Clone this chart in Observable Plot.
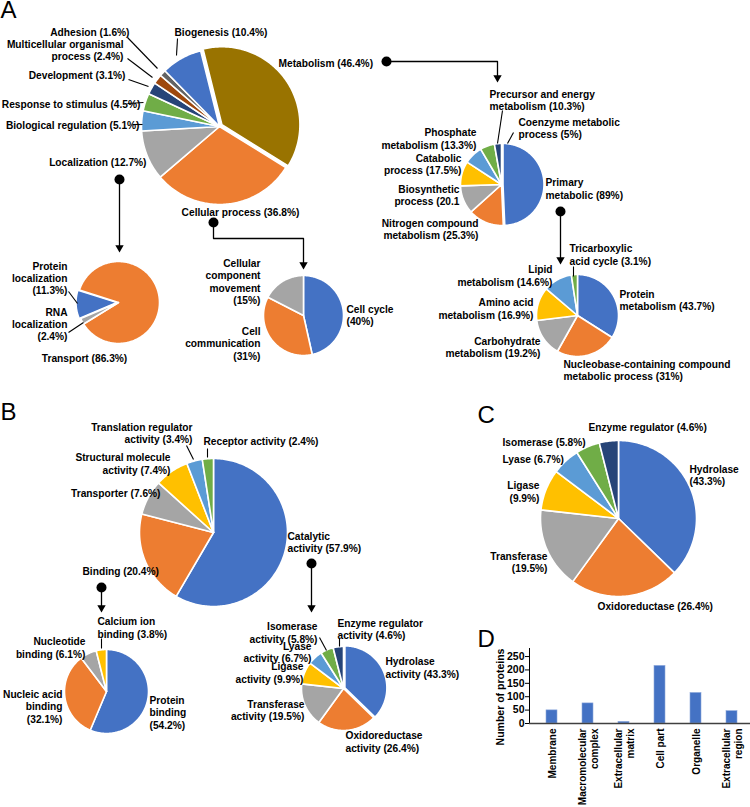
<!DOCTYPE html>
<html><head><meta charset="utf-8">
<script src="https://cdn.jsdelivr.net/npm/d3@7"></script>
<script src="https://cdn.jsdelivr.net/npm/@observablehq/plot@0.6"></script>
<style>
body{margin:0;background:#fff;}
#wrap{position:relative;width:750px;height:807px;overflow:hidden;}
#main{position:absolute;left:0;top:0;}
#dpanel{position:absolute;left:470px;top:640px;}
</style></head><body>
<div id="wrap"><div id="main"></div><div id="dpanel"></div></div>
<script>
// ---------------- DATA ----------------
// Panel A: biological process
const bpCats = ["Metabolism","Cellular process","Localization","Biological regulation","Response to stimulus","Development","Multicellular organismal process","Adhesion","Biogenesis"];
const bpVals = [46.4,36.8,12.7,5.1,4.5,3.1,2.4,1.6,10.4];
const metCats = ["Primary metabolic","Nitrogen compound metabolism","Biosynthetic process","Catabolic process","Phosphate metabolism","Precursor and energy metabolism","Coenzyme metabolic process"];
const metVals = [89,25.3,20.1,17.5,13.3,10.3,5];
const primCats = ["Protein metabolism","Nucleobase-containing compound metabolic process","Carbohydrate metabolism","Amino acid metabolism","Lipid metabolism","Tricarboxylic acid cycle"];
const primVals = [43.7,31,19.2,16.9,14.6,3.1];
const locCats = ["Protein localization","Transport","RNA localization"];
const locVals = [11.3,86.3,2.4];
const cellCats = ["Cell cycle","Cell communication","Cellular component movement"];
const cellVals = [40,31,15];
// Panel B: molecular function
const mfCats = ["Catalytic activity","Binding","Transporter","Structural molecule activity","Translation regulator activity","Receptor activity"];
const mfVals = [57.9,20.4,7.6,7.4,3.4,2.4];
const bindCats = ["Protein binding","Nucleic acid binding","Nucleotide binding","Calcium ion binding"];
const bindVals = [54.2,32.1,6.1,3.8];
const catCats = ["Hydrolase activity","Oxidoreductase activity","Transferase activity","Ligase activity","Lyase activity","Isomerase activity","Enzyme regulator activity"];
const catVals = [43.3,26.4,19.5,9.9,6.7,5.8,4.6];
// Panel C: enzyme classes
const enzCats = ["Hydrolase","Oxidoreductase","Transferase","Ligase","Lyase","Isomerase","Enzyme regulator"];
const enzVals = [43.3,26.4,19.5,9.9,6.7,5.8,4.6];
// Panel D: cellular component
const ccCats = ["Membrane","Macromolecular complex","Extracellular matrix","Cell part","Organelle","Extracellular region"];
const ccVals = [49,75,6,215,114,46];
const ccTickLabels = ["Membrane","Macromolecular\ncomplex","Extracellular\nmatrix","Cell part","Organelle","Extracellular\nregion"];
const ccTicks = [0,50,100,150,200,250];
const ccYLabel = "Number of proteins";

// ---------------- STYLE / LAYOUT ----------------
const FONT = '"Liberation Sans", Arial, Helvetica, sans-serif';
const C = {blue:"#4472C4",orange:"#ED7D31",gray:"#A5A5A5",yellow:"#FFC000",lblue:"#5B9BD5",green:"#70AD47",navy:"#264478",brown:"#9E480E",dgray:"#636363",olive:"#997300"};
const std = [C.blue,C.orange,C.gray,C.yellow,C.lblue,C.green,C.navy];

const pies = [
  {id:"bp",  vals:bpVals,  cx:219, cy:126, r:78, start:-14, colors:[C.olive,C.orange,C.gray,C.lblue,C.green,C.navy,C.brown,C.dgray,C.blue], explode:{0:3}},
  {id:"met", vals:metVals, cx:501, cy:184, r:41, start:0,   colors:std, explode:{0:1.5}},
  {id:"prim",vals:primVals,cx:577, cy:315, r:41, start:0,   colors:[C.blue,C.orange,C.gray,C.yellow,C.lblue,C.green]},
  {id:"loc", vals:locVals, cx:118, cy:302, r:41, start:247, colors:[C.blue,C.orange,C.gray], explode:{0:1.5}},
  {id:"cell",vals:cellVals,cx:303, cy:315, r:40, start:0,   colors:[C.blue,C.orange,C.gray]},
  {id:"mf",  vals:mfVals,  cx:213, cy:532, r:74, start:0,   colors:[C.blue,C.orange,C.gray,C.yellow,C.lblue,C.green]},
  {id:"bind",vals:bindVals,cx:106, cy:691, r:42, start:0,   colors:[C.blue,C.orange,C.gray,C.yellow]},
  {id:"cat", vals:catVals, cx:343, cy:688, r:42, start:0,   colors:std, explode:{0:1.5}},
  {id:"enz", vals:enzVals, cx:618, cy:518, r:78, start:0,   colors:std}
];

// label text + placement: [text, x, y]
const labelsEnd = [
  ["Adhesion (1.6%)",129,32],["Multicellular organismal\nprocess (2.4%)",123,49.5],["Development (3.1%)",125,75],
  ["Response to stimulus (4.5%)",140,104],["Biological regulation (5.1%)",139,125],["Localization (12.7%)",146,162],
  ["Phosphate\nmetabolism (13.3%)",476,138],["Catabolic\nprocess (17.5%)",461,163.5],["Biosynthetic\nprocess (20.1",459,194.5],
  ["Nitrogen compound\nmetabolism (25.3%)",478,228.5],
  ["Lipid\nmetabolism (14.6%)",552,275],["Amino acid\nmetabolism (16.9%)",533,308],["Carbohydrate\nmetabolism (19.2%)",540,346.5],
  ["Protein\nlocalization\n(11.3%)",67,277.5],["RNA\nlocalization\n(2.4%)",67,323.5],
  ["Cellular\ncomponent\nmovement\n(15%)",260,281],["Cell\ncommunication\n(31%)",260,343],
  ["Translation regulator\nactivity (3.4%)",192,432.5],["Structural molecule\nactivity (7.4%)",170,463],["Transporter (7.6%)",160,493],
  ["Nucleotide\nbinding (6.1%)",85,647],["Nucleic acid\nbinding\n(32.1%)",62,706],
  ["Isomerase\nactivity (5.8%)",317,632],["Lyase\nactivity (6.7%)",311,651.5],["Ligase\nactivity (9.9%)",303,672],["Transferase\nactivity (19.5%)",304,709.5],
  ["Ligase\n(9.9%)",539,491],["Transferase\n(19.5%)",547,561.5]
];
const labelsStart = [
  ["Biogenesis (10.4%)",174,32],["Metabolism (46.4%)",278,63],
  ["Precursor and energy\nmetabolism (10.3%)",489,99.5],["Coenzyme metabolic\nprocess (5%)",518,127.5],["Primary\nmetabolic (89%)",545,188],
  ["Tricarboxylic\nacid cycle (3.1%)",569,254],["Protein\nmetabolism (43.7%)",619,299.5],["Nucleobase-containing compound\nmetabolic process (31%)",563,369.5],
  ["Cell cycle\n(40%)",346,314.5],
  ["Receptor activity (2.4%)",203,441],["Catalytic\nactivity (57.9%)",287,541.5],["Binding (20.4%)",82,571],
  ["Calcium ion\nbinding (3.8%)",97,627],["Protein\nbinding\n(54.2%)",149,712],
  ["Enzyme regulator\nactivity (4.6%)",337,628.5],["Hydrolase\nactivity (43.3%)",385,667],["Oxidoreductase\nactivity (26.4%)",345,741],
  ["Enzyme regulator (4.6%)",588,427],["Isomerase (5.8%)",502,442],["Lyase (6.7%)",502,459],["Hydrolase\n(43.3%)",689,474.5],
  ["Oxidoreductase (26.4%)",597,606]
];
const labelsMid = [["Cellular process (36.8%)",240,212],["Transport (86.3%)",84,358]];
const panelLetters = [["A",0,10],["B",0,412],["C",477,415],["D",477,639]];

const leaders = [
  [127,37,157,68],[127,58,152,77],[128,79,148,86],[127,103,143,102],[132,124,142,124],[177,38,176,55],
  [502,110,497,143],[513,132,507,143],[573,266,573,276],
  [68,291,77,303],[68,332,83,322],
  [186,445,193,459],[207,448,207,457],[101,638,101,648],
  [319,637,326,650],[339,638,339,646]
];
const connectors = [
  {id:"m", pts:[[386,61],[497,61],[497,78]], tip:[497,82]},
  {id:"l", pts:[[119,179],[119,248]], tip:[119,252]},
  {id:"c", pts:[[213,222],[213,238],[303,238],[303,265]], tip:[303,269]},
  {id:"p", pts:[[560,211],[560,260]], tip:[560,264]},
  {id:"b", pts:[[101,587],[101,608]], tip:[101,612]},
  {id:"k", pts:[[311,563],[311,608]], tip:[311,612]}
];

// ---------------- BUILD ----------------
function sliceRows(p) {
  const a0 = p.start * Math.PI / 180;
  const arcs = d3.pie().sort(null).startAngle(a0).endAngle(a0 + 2 * Math.PI)(p.vals);
  const rows = [];
  arcs.forEach((a, i) => {
    const key = p.id + "-" + i;
    const mid = (a.startAngle + a.endAngle) / 2;
    const e = (p.explode && p.explode[i]) || 0;
    const ox = p.cx + e * Math.sin(mid), oy = p.cy - e * Math.cos(mid);
    const color = p.colors[i];
    rows.push({key, x: ox, y: oy, color});
    const n = Math.max(2, Math.ceil((a.endAngle - a.startAngle) / (Math.PI / 180)));
    for (let k = 0; k <= n; k++) {
      const t = a.startAngle + (a.endAngle - a.startAngle) * k / n;
      rows.push({key, x: ox + p.r * Math.sin(t), y: oy - p.r * Math.cos(t), color});
    }
  });
  return rows;
}
const sliceData = pies.flatMap(sliceRows);
const connRows = connectors.flatMap(c => c.pts.map(([x, y]) => ({id: c.id, x, y})));
const dots = connectors.map(c => ({x: c.pts[0][0], y: c.pts[0][1]}));
const heads = connectors.map(c => ({x: c.tip[0], y: c.tip[1] - 4.8}));
const lab = arr => arr.map(([text, x, y]) => ({text, x, y}));
const LH = 1.22, FS = 10.2;

const main = Plot.plot({
  width: 750, height: 807, margin: 0,
  x: {type: "identity", axis: null},
  y: {type: "identity", axis: null},
  color: {type: "identity"},
  style: {fontFamily: FONT, fontSize: FS + "px", fontWeight: "bold", background: "white"},
  marks: [
    Plot.line(sliceData, {x: "x", y: "y", z: "key", fill: "color", stroke: "white", strokeWidth: 1.6, strokeLinejoin: "round", curve: "linear-closed"}),
    Plot.link(leaders, {x1: d => d[0], y1: d => d[1], x2: d => d[2], y2: d => d[3], stroke: "black", strokeWidth: 1.1}),
    Plot.line(connRows, {x: "x", y: "y", z: "id", stroke: "black", strokeWidth: 1.3}),
    Plot.dot(dots, {x: "x", y: "y", r: 5, fill: "black"}),
    Plot.dot(heads, {x: "x", y: "y", r: 3.1, symbol: "triangle", rotate: 180, fill: "black"}),
    Plot.text(lab(labelsEnd), {x: "x", y: "y", text: "text", textAnchor: "end", lineHeight: LH, fontSize: FS, fontWeight: "bold", fill: "black"}),
    Plot.text(lab(labelsStart), {x: "x", y: "y", text: "text", textAnchor: "start", lineHeight: LH, fontSize: FS, fontWeight: "bold", fill: "black"}),
    Plot.text(lab(labelsMid), {x: "x", y: "y", text: "text", textAnchor: "middle", lineHeight: LH, fontSize: FS, fontWeight: "bold", fill: "black"}),
    Plot.text(lab(panelLetters), {x: "x", y: "y", text: "text", textAnchor: "start", fontSize: 24, fontWeight: "normal", fill: "black"})
  ]
});
document.getElementById("main").appendChild(main);

const ccData = ccCats.map((c, i) => ({c, v: ccVals[i]}));
const dPlot = Plot.plot({
  width: 280, height: 167,
  marginLeft: 59, marginRight: 0, marginTop: 8, marginBottom: 84,
  style: {fontFamily: FONT, fontWeight: "bold", fontSize: "10.5px", background: "transparent", overflow: "visible"},
  x: {domain: ccCats, paddingInner: 0.7, paddingOuter: 0.35, insetLeft: 4, axis: null},
  y: {domain: [0, 280], ticks: ccTicks, tickSize: 4, tickPadding: 1, label: null, line: true},
  marks: [
    Plot.barY(ccData, {x: "c", y: "v", fill: C.blue, stroke: "#8EA9DB", strokeWidth: 0.6}),
    Plot.ruleY([0], {stroke: "#404040", strokeWidth: 1.4}),
    Plot.text(ccData, {x: "c", y: () => 0, text: (d, i) => ccTickLabels[i], rotate: -90, textAnchor: "end", lineAnchor: "middle", dy: 5, fontSize: 10, lineHeight: 1.2, fontWeight: "bold", fill: "black"}),
    Plot.text([ccYLabel], {frameAnchor: "left", text: d => d, rotate: -90, textAnchor: "middle", dx: -29, dy: 11, fontSize: 10.5, fontWeight: "bold", fill: "black"})
  ]
});
document.getElementById("dpanel").appendChild(dPlot);
</script>
</body></html>
